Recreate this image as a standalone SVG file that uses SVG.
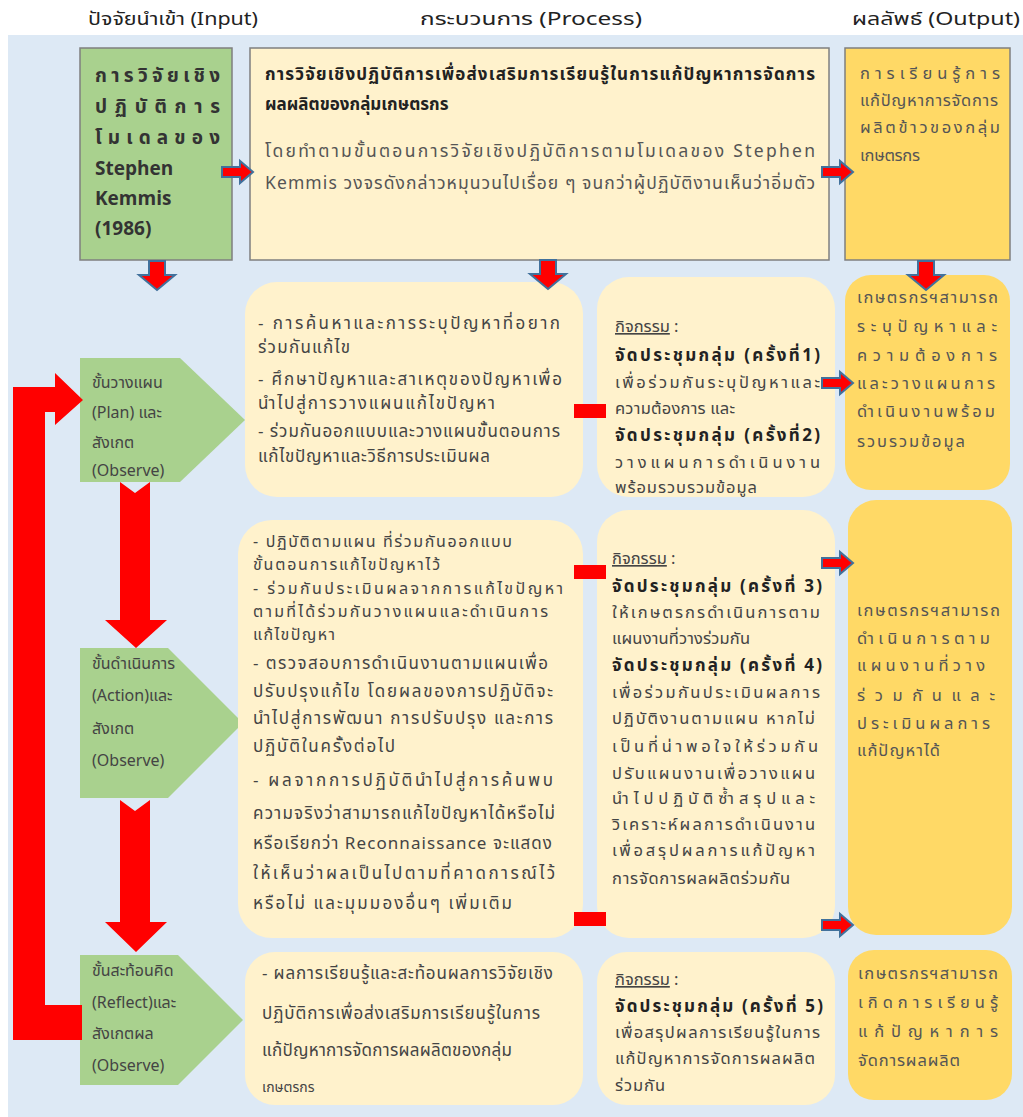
<svg xmlns="http://www.w3.org/2000/svg" xmlns:xlink="http://www.w3.org/1999/xlink" width="1023" height="1117" viewBox="0 0 1023 1117">
<style>
text{font-family:'Noto Sans Thai','Noto Sans','DejaVu Sans',sans-serif;}
.hd{font-size:18.5px;fill:#222;}
.t1{font-size:17px;fill:#222;font-weight:bold;}
.g1{font-size:17.5px;fill:#555;}
.gr{font-size:16px;fill:#444;}
.bd{font-size:17px;fill:#444;}
.bs{font-size:16px;fill:#444;}
.ac{font-size:16.5px;fill:#444;}
.acb{font-size:17px;fill:#222;font-weight:bold;}
.or{font-size:16.5px;fill:#555;}
.gb{font-size:19px;fill:#333;font-weight:bold;}
.box{stroke:#7f7f7f;stroke-width:1.5;}
.green{fill:#a9d18e;}
.cream{fill:#fff2cc;}
.orange{fill:#ffd966;}
.sarr{fill:#ff0000;stroke:#41719c;stroke-width:2;}
.big{fill:#ff0000;}
.red{fill:#ff0000;}
</style>
<defs>
<path id="arrR" d="M0 -5 H18 V-11 L31 0 L18 11 V5 H0 Z"/>
<path id="arrD" d="M-8 0 H8 V14 H18 L0 29 L-18 14 H-8 Z"/>
</defs>
<rect x="0" y="0" width="1023" height="1117" fill="#ffffff"/>
<rect x="8" y="35" width="1015" height="1082" fill="#dde9f5"/>

<g id="headers">
<text class="hd" x="88" y="25" textLength="170" lengthAdjust="spacingAndGlyphs">ปัจจัยนำเข้า (Input)</text>
<text class="hd" x="420" y="25" textLength="222" lengthAdjust="spacingAndGlyphs">กระบวนการ (Process)</text>
<text class="hd" x="852" y="25" textLength="168" lengthAdjust="spacingAndGlyphs">ผลลัพธ์ (Output)</text>
</g>

<g id="input-model">
<rect class="box green" x="80" y="48" width="152" height="212"/>
<text class="gb" x="95" y="82" textLength="125" lengthAdjust="spacing">การวิจัยเชิง</text>
<text class="gb" x="95" y="113" textLength="125" lengthAdjust="spacing">ปฏิบัติการ</text>
<text class="gb" x="95" y="144" textLength="125" lengthAdjust="spacing">โมเดลของ</text>
<text class="gb" x="95" y="175">Stephen</text>
<text class="gb" x="95" y="205">Kemmis</text>
<text class="gb" x="95" y="235">(1986)</text>
</g>

<g id="process-main">
<rect class="box cream" x="250" y="48" width="579" height="212"/>
<text class="t1" x="265" y="80" textLength="550" lengthAdjust="spacing">การวิจัยเชิงปฏิบัติการเพื่อส่งเสริมการเรียนรู้ในการแก้ปัญหาการจัดการ</text>
<text class="t1" x="265" y="110">ผลผลิตของกลุ่มเกษตรกร</text>
<text class="g1" x="265" y="157" textLength="550" lengthAdjust="spacing">โดยทำตามขั้นตอนการวิจัยเชิงปฏิบัติการตามโมเดลของ Stephen</text>
<text class="g1" x="265" y="189" textLength="550" lengthAdjust="spacing">Kemmis วงจรดังกล่าวหมุนวนไปเรื่อย ๆ จนกว่าผู้ปฏิบัติงานเห็นว่าอิ่มตัว</text>
</g>

<g id="output-main">
<rect class="box orange" x="845" y="48" width="165" height="212"/>
<text class="or" x="860" y="79" textLength="140" lengthAdjust="spacing">การเรียนรู้การ</text>
<text class="or" x="860" y="106" textLength="138" lengthAdjust="spacing">แก้ปัญหาการจัดการ</text>
<text class="or" x="860" y="133" textLength="140" lengthAdjust="spacing">ผลิตข้าวของกลุ่ม</text>
<text class="or" x="860" y="161" textLength="60" lengthAdjust="spacing">เกษตรกร</text>
</g>

<g id="plan-step">
<path class="green" d="M80 358 H180 L245 420 L180 482 H80 Z"/>
<text class="gr" x="92" y="388">ขั้นวางแผน</text>
<text class="gr" x="92" y="418">(Plan) และ</text>
<text class="gr" x="92" y="448">สังเกต</text>
<text class="gr" x="92" y="476">(Observe)</text>
</g>

<g id="plan-process">
<rect class="cream" x="245" y="282" width="338" height="215" rx="32"/>
<text class="bd" x="258" y="329" textLength="302" lengthAdjust="spacing">- การค้นหาและการระบุปัญหาที่อยาก</text>
<text class="bd" x="258" y="353" textLength="92" lengthAdjust="spacing">ร่วมกันแก้ไข</text>
<text class="bd" x="258" y="385" textLength="304" lengthAdjust="spacing">- ศึกษาปัญหาและสาเหตุของปัญหาเพื่อ</text>
<text class="bd" x="258" y="409" textLength="237" lengthAdjust="spacing">นำไปสู่การวางแผนแก้ไขปัญหา</text>
<text class="bd" x="258" y="437" textLength="302" lengthAdjust="spacing">- ร่วมกันออกแบบและวางแผนขั้นตอนการ</text>
<text class="bd" x="258" y="462" textLength="232" lengthAdjust="spacing">แก้ไขปัญหาและวิธีการประเมินผล</text>
</g>

<g id="plan-activity">
<rect class="cream" x="597" y="277" width="238" height="220" rx="32"/>
<text class="ac" x="615" y="332" text-decoration="underline">กิจกรรม</text>
<text class="ac" x="674" y="332">:</text>
<text class="acb" x="615" y="361" textLength="205" lengthAdjust="spacing">จัดประชุมกลุ่ม (ครั้งที่1)</text>
<text class="ac" x="615" y="388" textLength="205" lengthAdjust="spacing">เพื่อร่วมกันระบุปัญหาและ</text>
<text class="ac" x="615" y="414" textLength="120" lengthAdjust="spacing">ความต้องการ และ</text>
<text class="acb" x="615" y="441" textLength="205" lengthAdjust="spacing">จัดประชุมกลุ่ม (ครั้งที่2)</text>
<text class="ac" x="615" y="468" textLength="205" lengthAdjust="spacing">วางแผนการดำเนินงาน</text>
<text class="ac" x="615" y="493" textLength="142" lengthAdjust="spacing">พร้อมรวบรวมข้อมูล</text>
</g>

<g id="plan-output">
<rect class="orange" x="845" y="275" width="165" height="215" rx="26"/>
<text class="or" x="857" y="303" textLength="141" lengthAdjust="spacing">เกษตรกรฯสามารถ</text>
<text class="or" x="857" y="332" textLength="140" lengthAdjust="spacing">ระบุปัญหาและ</text>
<text class="or" x="857" y="361" textLength="140" lengthAdjust="spacing">ความต้องการ</text>
<text class="or" x="857" y="389" textLength="138" lengthAdjust="spacing">และวางแผนการ</text>
<text class="or" x="857" y="417" textLength="138" lengthAdjust="spacing">ดำเนินงานพร้อม</text>
<text class="or" x="857" y="447" textLength="108" lengthAdjust="spacing">รวบรวมข้อมูล</text>
</g>

<g id="action-step">
<path class="green" d="M80 648 H168 L243 723 L168 798 H80 Z"/>
<text class="gr" x="92" y="669">ขั้นดำเนินการ</text>
<text class="gr" x="92" y="701">(Action)และ</text>
<text class="gr" x="92" y="734">สังเกต</text>
<text class="gr" x="92" y="766">(Observe)</text>
</g>

<g id="action-process">
<rect class="cream" x="238" y="520" width="345" height="418" rx="34"/>
<text class="bs" x="253" y="547" textLength="259" lengthAdjust="spacing">- ปฏิบัติตามแผน ที่ร่วมกันออกแบบ</text>
<text class="bs" x="253" y="570" textLength="187" lengthAdjust="spacing">ขั้นตอนการแก้ไขปัญหาไว้</text>
<text class="bs" x="253" y="594" textLength="310" lengthAdjust="spacing">- ร่วมกันประเมินผลจากการแก้ไขปัญหา</text>
<text class="bs" x="253" y="617" textLength="295" lengthAdjust="spacing">ตามที่ได้ร่วมกันวางแผนและดำเนินการ</text>
<text class="bs" x="253" y="640" textLength="82" lengthAdjust="spacing">แก้ไขปัญหา</text>
<text class="bd" x="253" y="669" textLength="295" lengthAdjust="spacing">- ตรวจสอบการดำเนินงานตามแผนเพื่อ</text>
<text class="bd" x="253" y="697" textLength="300" lengthAdjust="spacing">ปรับปรุงแก้ไข โดยผลของการปฏิบัติจะ</text>
<text class="bd" x="253" y="724" textLength="300" lengthAdjust="spacing">นำไปสู่การพัฒนา การปรับปรุง และการ</text>
<text class="bd" x="253" y="752" textLength="142" lengthAdjust="spacing">ปฏิบัติในครั้งต่อไป</text>
<text class="bd" x="253" y="786" textLength="300" lengthAdjust="spacing">- ผลจากการปฏิบัตินำไปสู่การค้นพบ</text>
<text class="bd" x="253" y="819" textLength="302" lengthAdjust="spacing">ความจริงว่าสามารถแก้ไขปัญหาได้หรือไม่</text>
<text class="bd" x="253" y="849" textLength="299" lengthAdjust="spacing">หรือเรียกว่า Reconnaissance จะแสดง</text>
<text class="bd" x="253" y="879" textLength="302" lengthAdjust="spacing">ให้เห็นว่าผลเป็นไปตามที่คาดการณ์ไว้</text>
<text class="bd" x="253" y="909" textLength="259" lengthAdjust="spacing">หรือไม่ และมุมมองอื่นๆ เพิ่มเติม</text>
</g>

<g id="action-activity">
<rect class="cream" x="597" y="510" width="238" height="428" rx="32"/>
<text class="ac" x="612" y="564" text-decoration="underline">กิจกรรม</text>
<text class="ac" x="671" y="564">:</text>
<text class="acb" x="612" y="592" textLength="210" lengthAdjust="spacing">จัดประชุมกลุ่ม (ครั้งที่ 3)</text>
<text class="ac" x="612" y="618" textLength="208" lengthAdjust="spacing">ให้เกษตรกรดำเนินการตาม</text>
<text class="ac" x="612" y="644" textLength="138" lengthAdjust="spacing">แผนงานที่วางร่วมกัน</text>
<text class="acb" x="612" y="671" textLength="210" lengthAdjust="spacing">จัดประชุมกลุ่ม (ครั้งที่ 4)</text>
<text class="ac" x="612" y="698" textLength="208" lengthAdjust="spacing">เพื่อร่วมกันประเมินผลการ</text>
<text class="ac" x="612" y="724" textLength="203" lengthAdjust="spacing">ปฏิบัติงานตามแผน หากไม่</text>
<text class="ac" x="612" y="752" textLength="206" lengthAdjust="spacing">เป็นที่น่าพอใจให้ร่วมกัน</text>
<text class="ac" x="612" y="779" textLength="203" lengthAdjust="spacing">ปรับแผนงานเพื่อวางแผน</text>
<text class="ac" x="612" y="804" textLength="203" lengthAdjust="spacing">นำไปปฏิบัติซ้ำสรุปและ</text>
<text class="ac" x="612" y="830" textLength="203" lengthAdjust="spacing">วิเคราะห์ผลการดำเนินงาน</text>
<text class="ac" x="612" y="856" textLength="203" lengthAdjust="spacing">เพื่อสรุปผลการแก้ปัญหา</text>
<text class="ac" x="612" y="884" textLength="178" lengthAdjust="spacing">การจัดการผลผลิตร่วมกัน</text>
</g>

<g id="action-output">
<rect class="orange" x="848" y="500" width="164" height="435" rx="28"/>
<text class="or" x="857" y="616" textLength="143" lengthAdjust="spacing">เกษตรกรฯสามารถ</text>
<text class="or" x="857" y="644" textLength="133" lengthAdjust="spacing">ดำเนินการตาม</text>
<text class="or" x="857" y="671" textLength="128" lengthAdjust="spacing">แผนงานที่วาง</text>
<text class="or" x="857" y="701" textLength="138" lengthAdjust="spacing">ร่วมกันและ</text>
<text class="or" x="857" y="729" textLength="133" lengthAdjust="spacing">ประเมินผลการ</text>
<text class="or" x="857" y="756" textLength="83" lengthAdjust="spacing">แก้ปัญหาได้</text>
</g>

<g id="reflect-step">
<path class="green" d="M80 955 H178 L243 1020 L178 1085 H80 Z"/>
<text class="gr" x="92" y="976">ขั้นสะท้อนคิด</text>
<text class="gr" x="92" y="1008">(Reflect)และ</text>
<text class="gr" x="92" y="1039">สังเกตผล</text>
<text class="gr" x="92" y="1071">(Observe)</text>
</g>

<g id="reflect-process">
<rect class="cream" x="245" y="952" width="338" height="153" rx="30"/>
<text class="bd" x="262" y="979" textLength="291" lengthAdjust="spacing">- ผลการเรียนรู้และสะท้อนผลการวิจัยเชิง</text>
<text class="bd" x="262" y="1019" textLength="278" lengthAdjust="spacing">ปฏิบัติการเพื่อส่งเสริมการเรียนรู้ในการ</text>
<text class="bd" x="262" y="1056" textLength="250" lengthAdjust="spacing">แก้ปัญหาการจัดการผลผลิตของกลุ่ม</text>
<text class="bd" x="262" y="1092" style="font-size:14px">เกษตรกร</text>
</g>

<g id="reflect-activity">
<rect class="cream" x="597" y="952" width="238" height="153" rx="30"/>
<text class="ac" x="615" y="985" text-decoration="underline">กิจกรรม</text>
<text class="ac" x="674" y="985">:</text>
<text class="acb" x="615" y="1012" textLength="208" lengthAdjust="spacing">จัดประชุมกลุ่ม (ครั้งที่ 5)</text>
<text class="ac" x="615" y="1038" textLength="205" lengthAdjust="spacing">เพื่อสรุปผลการเรียนรู้ในการ</text>
<text class="ac" x="615" y="1064" textLength="200" lengthAdjust="spacing">แก้ปัญหาการจัดการผลผลิต</text>
<text class="ac" x="615" y="1091" textLength="50" lengthAdjust="spacing">ร่วมกัน</text>
</g>

<g id="reflect-output">
<rect class="orange" x="848" y="950" width="164" height="150" rx="26"/>
<text class="or" x="858" y="979" textLength="140" lengthAdjust="spacing">เกษตรกรฯสามารถ</text>
<text class="or" x="858" y="1008" textLength="140" lengthAdjust="spacing">เกิดการเรียนรู้</text>
<text class="or" x="858" y="1037" textLength="140" lengthAdjust="spacing">แก้ปัญหาการ</text>
<text class="or" x="858" y="1066" textLength="102" lengthAdjust="spacing">จัดการผลผลิต</text>
</g>

<g id="connectors">
<use href="#arrR" xlink:href="#arrR" x="222" y="172" class="sarr"/>
<use href="#arrR" xlink:href="#arrR" x="822" y="172" class="sarr"/>
<use href="#arrD" xlink:href="#arrD" x="157" y="261" class="sarr"/>
<use href="#arrD" xlink:href="#arrD" x="548" y="260" class="sarr"/>
<use href="#arrD" xlink:href="#arrD" x="926" y="261" class="sarr"/>
<use href="#arrR" xlink:href="#arrR" x="822" y="383" class="sarr"/>
<use href="#arrR" xlink:href="#arrR" x="822" y="563" class="sarr"/>
<use href="#arrR" xlink:href="#arrR" x="822" y="925" class="sarr"/>
<rect class="red" x="574" y="404" width="32" height="14"/>
<rect class="red" x="574" y="565" width="32" height="14"/>
<rect class="red" x="574" y="912" width="32" height="14"/>
<path class="big" d="M13 1040 H82 V1005 H45 V412 H55 V425 L83 400 L55 373 V387 H13 Z"/>
<path class="big" d="M120 482 L135 493 L150 482 V620 H167 L136 648 L105 620 H120 Z"/>
<path class="big" d="M120 800 L135 811 L150 800 V922 H167 L136 952 L105 922 H120 Z"/>
</g>
</svg>
